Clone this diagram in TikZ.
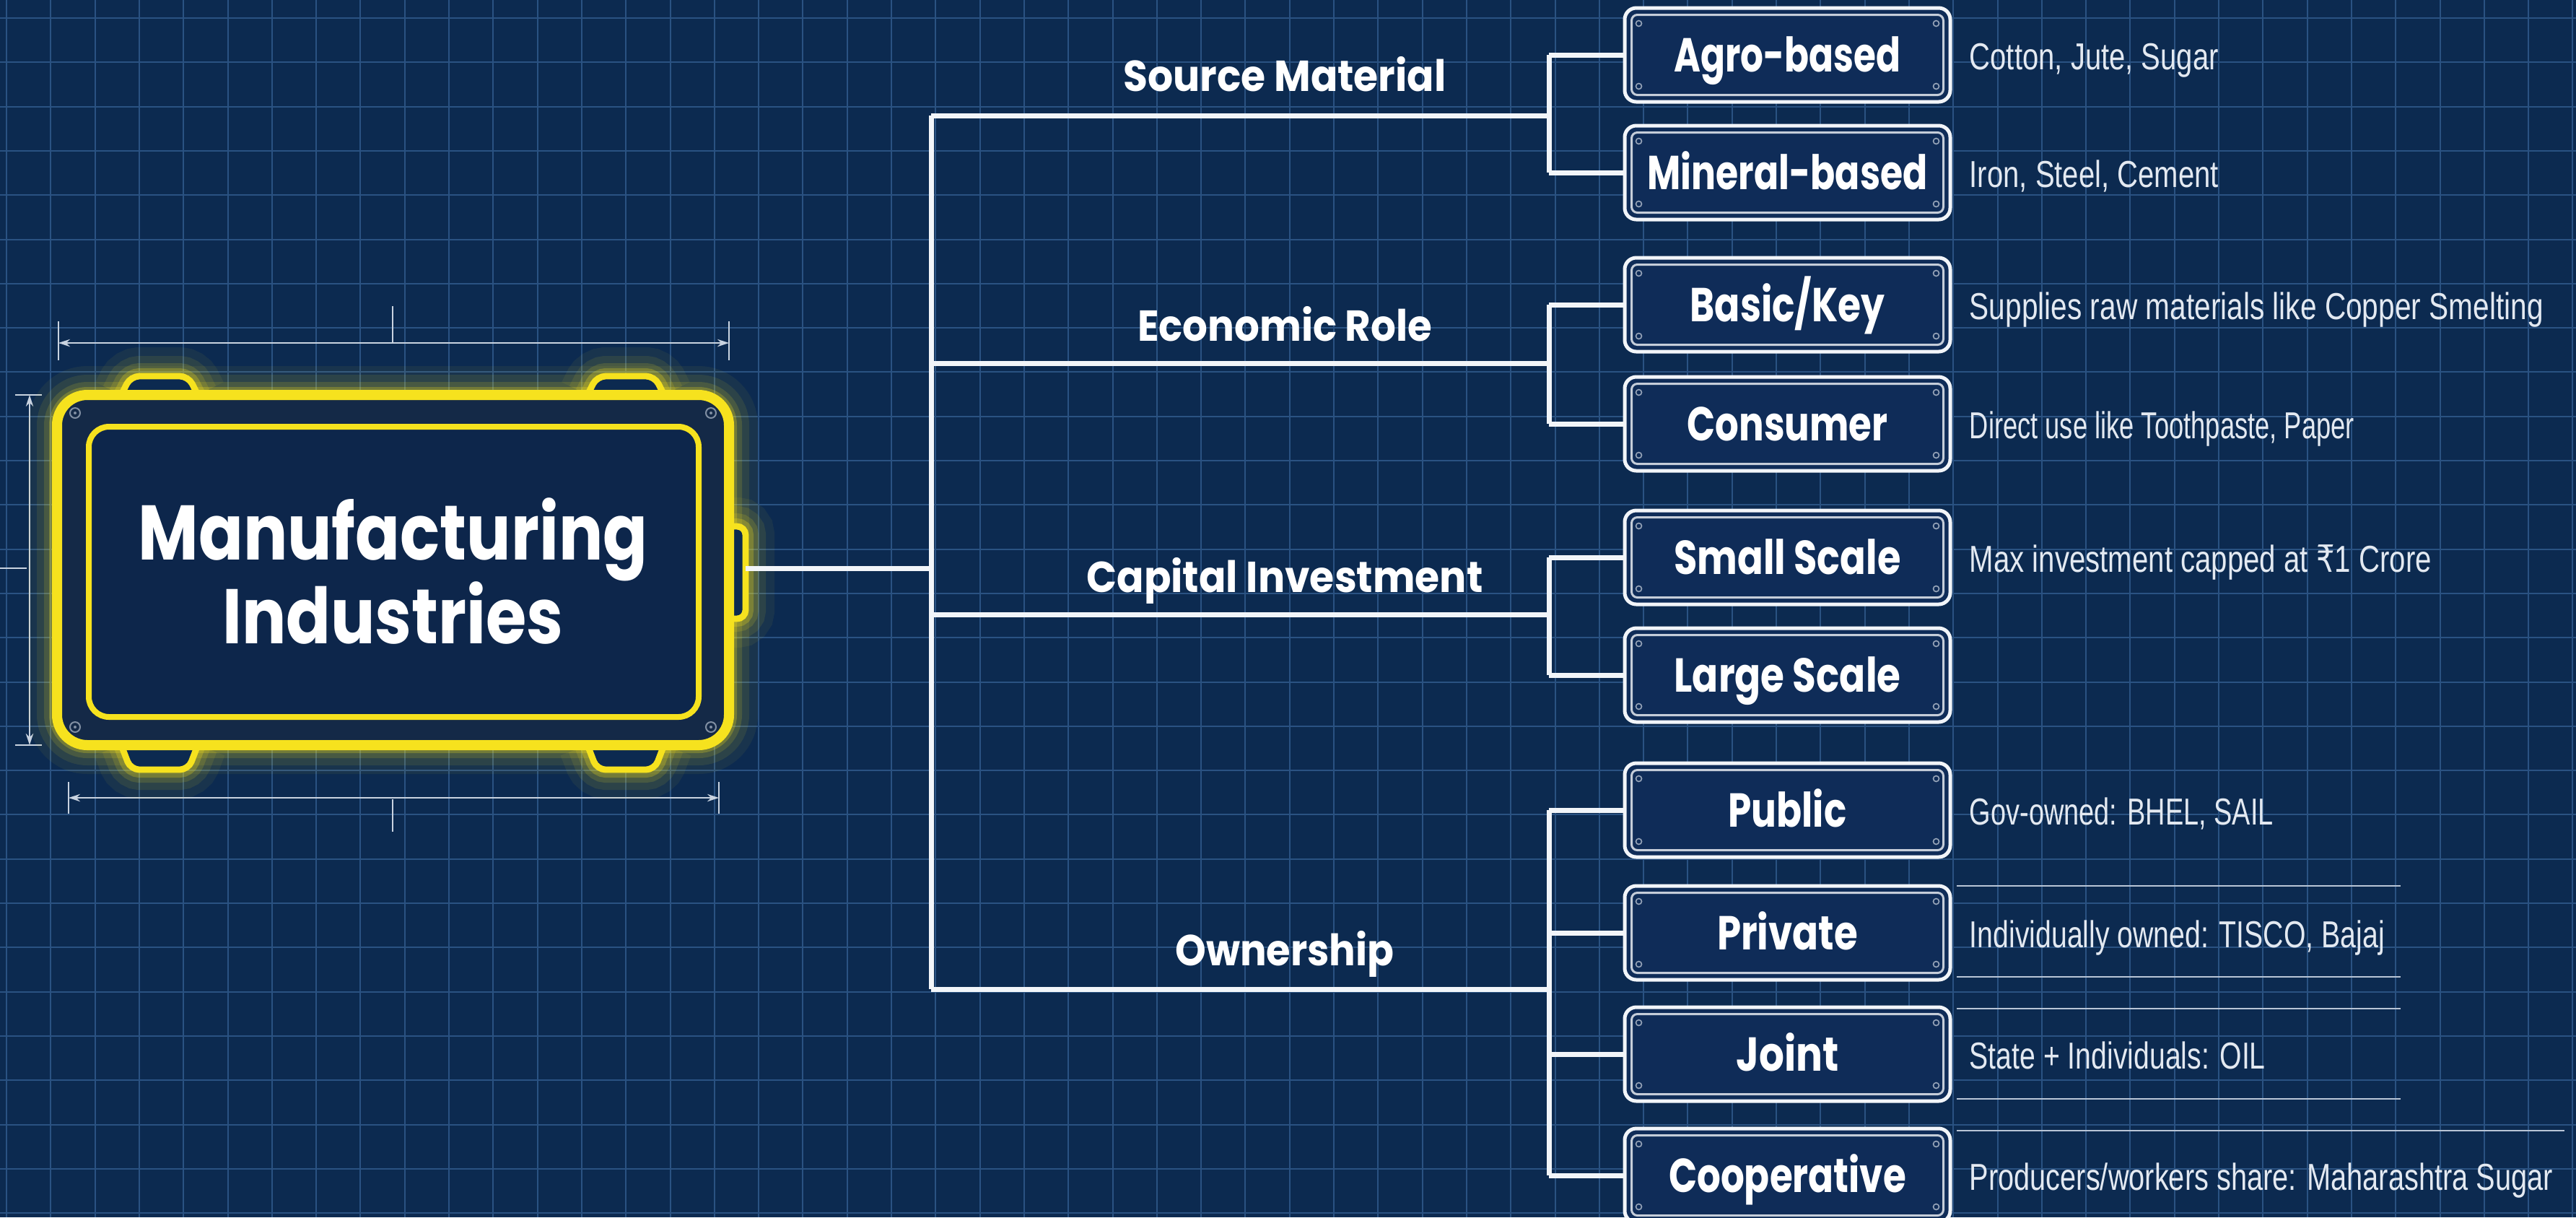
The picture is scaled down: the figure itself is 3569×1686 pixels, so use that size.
\documentclass[tikz,border=0pt]{standalone}
\usepackage{fontspec}
\usepackage{graphicx}
\usetikzlibrary{arrows.meta,calc}
\newfontfamily\headfont[FakeStretch=0.85]{Poppins}
\newfontfamily\descfont{Liberation Sans}
\newfontfamily\rupfont{DejaVu Sans}
\newdimen\pxu \pxu=0.25pt
\newcommand\fw[2]{\resizebox{#1\pxu}{\height}{#2}}
\definecolor{bgc}{HTML}{0C2A50}
\definecolor{gridc}{HTML}{2A5282}
\definecolor{ylw}{HTML}{F6E21E}
\definecolor{boxfill}{HTML}{0F2C58}
\definecolor{rootfill}{HTML}{0D264B}
\definecolor{bandfill}{HTML}{142947}
\definecolor{dimc}{HTML}{C9D3E0}
\definecolor{linec}{HTML}{F2F5F9}
\definecolor{descc}{HTML}{E3E9F1}
\definecolor{rulec}{HTML}{B9C5D6}
\newcommand\mfglowshape[1]{%
  \draw[#1, rounded corners=3pt] (168,547) -- (181,521) -- (261,521) -- (274,547);
  \draw[#1, rounded corners=3pt] (814,547) -- (827,521) -- (907,521) -- (920,547);
  \draw[#1, rounded corners=3pt] (168,1032) -- (181,1066) -- (261,1066) -- (274,1032);
  \draw[#1, rounded corners=3pt] (814,1032) -- (827,1066) -- (907,1066) -- (920,1032);
  \draw[#1, rounded corners=3pt] (1005,729) rectangle (1033,857);
  \draw[#1, rounded corners=10.5pt] (79,547) rectangle (1010,1032);
  \draw[#1, rounded corners=7pt] (123,591) rectangle (968,993);
}
\tikzset{
  subbox/.style={draw=linec, line width=1.25pt, rounded corners=4pt, fill=boxfill,
    minimum width=112.75pt, minimum height=32.5pt, inner sep=0pt,
    text height=11.6pt, text depth=0pt,
    font=\headfont\bfseries\fontsize{16.5pt}{18pt}\selectfont, text=white},
  catlabel/.style={font=\headfont\bfseries\fontsize{15pt}{17pt}\selectfont, text=white, inner sep=0pt,
    text height=10.5pt, text depth=0pt},
  desc/.style={anchor=west, font=\descfont\fontsize{13pt}{15pt}\selectfont, text=descc, inner sep=0pt,
    text height=9.3pt, text depth=0pt},
  conn/.style={draw=linec, line width=1.75pt},
  innerl/.style={draw=linec!80!boxfill, line width=0.75pt, rounded corners=2pt},
  screw/.style={draw=linec!60!boxfill, line width=0.4pt},
  dim/.style={draw=dimc, line width=0.5pt},
  dimar/.style={dim, {Stealth[length=4pt,width=2.6pt]}-{Stealth[length=4pt,width=2.6pt]}},
  rule/.style={draw=rulec, line width=0.7pt}
}
\begin{document}
\begin{tikzpicture}[x=0.25pt,y=-0.25pt]
\useasboundingbox (0,0) rectangle (3569,1686);
\fill[bgc] (0,0) rectangle (3569,1686);
\foreach \i in {0,...,58} \draw[gridc, line width=0.5pt] ({9+61.3*\i},0) -- ({9+61.3*\i},1686);
\foreach \i in {0,...,27} \draw[gridc, line width=0.5pt] (0,{25+61.3*\i}) -- (3569,{25+61.3*\i});

% dimension lines
\coordinate (dt1) at (81,475); \coordinate (dt2) at (1010,475);
\draw[dimar] (dt1) -- (dt2);
\draw[dim] (81,445) -- (81,499);
\draw[dim] (1010,445) -- (1010,499);
\draw[dim] (544,424) -- (544,474);
\coordinate (db1) at (95,1105); \coordinate (db2) at (996,1105);
\draw[dimar] (db1) -- (db2);
\draw[dim] (95,1083) -- (95,1127);
\draw[dim] (996,1083) -- (996,1127);
\draw[dim] (544,1107) -- (544,1152);
\coordinate (dl1) at (41,547); \coordinate (dl2) at (41,1032);
\draw[dimar] (dl1) -- (dl2);
\draw[dim] (21,547) -- (58,547);
\draw[dim] (21,1032) -- (58,1032);
\draw[dim] (0,787) -- (37,787);

% main box with glow
\mfglowshape{ylw, line width=20pt, opacity=0.06}
\mfglowshape{ylw, line width=14pt, opacity=0.09}
\mfglowshape{ylw, line width=9pt, opacity=0.14}
\mfglowshape{ylw, line width=5.5pt, opacity=0.25}
\fill[bgc, rounded corners=3pt] (168,547) -- (181,521) -- (261,521) -- (274,547) -- cycle;
\fill[bgc, rounded corners=3pt] (814,547) -- (827,521) -- (907,521) -- (920,547) -- cycle;
\fill[bgc, rounded corners=3pt] (168,1032) -- (181,1066) -- (261,1066) -- (274,1032) -- cycle;
\fill[bgc, rounded corners=3pt] (814,1032) -- (827,1066) -- (907,1066) -- (920,1032) -- cycle;
\fill[bgc, rounded corners=3pt] (1005,729) rectangle (1033,857);
\mfglowshape{ylw, line width=2.2pt}
\fill[bandfill, rounded corners=10.5pt] (79,547) rectangle (1010,1032);
\fill[rootfill, rounded corners=7pt] (123,591) rectangle (968,993);
\draw[ylw, line width=3.5pt, rounded corners=10.5pt] (79,547) rectangle (1010,1032);
\draw[ylw, line width=2pt, rounded corners=7pt] (123,591) rectangle (968,993);
\foreach \p in {(104,572),(985,572),(104,1007),(985,1007)}
  {\draw[draw=dimc!60!bandfill, line width=0.5pt] \p circle (7); \fill[dimc!60!bandfill] \p circle (2);}
\node[font=\headfont\bfseries\fontsize{26.8pt}{29pt}\selectfont, text=white, align=center, inner sep=0pt] (root) at (544.5,791) {Manufacturing\\Industries};
\coordinate (rt) at (1033,787);

% tree junctions
\coordinate (j0) at (1290,787);
\coordinate (j1) at (1290,160);
\coordinate (j2) at (1290,503);
\coordinate (j3) at (1290,851);
\coordinate (j4) at (1290,1370);
\coordinate (b1) at (2146,160);
\coordinate (b2) at (2146,503);
\coordinate (b3) at (2146,851);
\coordinate (b4) at (2146,1370);

\draw[conn] (rt) -- (j0);
\draw[conn] (j1) -- (j4);
\draw[conn] (j1) -- (b1);
\draw[conn] (j2) -- (b2);
\draw[conn] (j3) -- (b3);
\draw[conn] (j4) -- (b4);

% category labels
\node[catlabel] (csrc) at (1780,105) {\fw{447}{Source Material}};
\node[catlabel] (cecon) at (1780,451) {\fw{408}{Economic Role}};
\node[catlabel] (ccap) at (1780,799) {\fw{549}{Capital Investment}};
\node[catlabel] (cown) at (1780,1316) {\fw{303}{Ownership}};

% sub boxes
\node[subbox] (agro) at (2476.5,76) {\fw{314}{Agro-based}};
\node[subbox] (mineral) at (2476.5,239) {\fw{388}{Mineral-based}};
\node[subbox] (basic) at (2476.5,422) {\fw{270}{Basic/Key}};
\node[subbox] (consumer) at (2476.5,587) {\fw{278}{Consumer}};
\node[subbox] (small) at (2476.5,772) {\fw{314}{Small Scale}};
\node[subbox] (large) at (2476.5,935) {\fw{314}{Large Scale}};
\node[subbox] (public) at (2476.5,1122) {\fw{164}{Public}};
\node[subbox] (private) at (2476.5,1292) {\fw{195}{Private}};
\node[subbox] (joint) at (2476.5,1460) {\fw{142}{Joint}};
\node[subbox] (coop) at (2476.5,1628) {\fw{329}{Cooperative}};

\foreach \n in {agro,mineral,basic,consumer,small,large,public,private,joint,coop}{
  \draw[innerl] ([shift={(12,12)}]\n.north west) rectangle ([shift={(-12,-12)}]\n.south east);
  \draw[screw] ([shift={(22,24)}]\n.north west) circle (4);
  \draw[screw] ([shift={(-22,24)}]\n.north east) circle (4);
  \draw[screw] ([shift={(22,-24)}]\n.south west) circle (4);
  \draw[screw] ([shift={(-22,-24)}]\n.south east) circle (4);
}

% branch connectors
\draw[conn] (b1 |- agro) -- (b1 |- mineral);
\draw[conn] (b1 |- agro) -- (agro.west);
\draw[conn] (b1 |- mineral) -- (mineral.west);
\draw[conn] (b2 |- basic) -- (b2 |- consumer);
\draw[conn] (b2 |- basic) -- (basic.west);
\draw[conn] (b2 |- consumer) -- (consumer.west);
\draw[conn] (b3 |- small) -- (b3 |- large);
\draw[conn] (b3 |- small) -- (small.west);
\draw[conn] (b3 |- large) -- (large.west);
\draw[conn] (b4 |- public) -- (b4 |- coop);
\draw[conn] (b4 |- public) -- (public.west);
\draw[conn] (b4 |- private) -- (private.west);
\draw[conn] (b4 |- joint) -- (joint.west);
\draw[conn] (b4 |- coop) -- (coop.west);

% descriptions
\node[desc] (dagro) at (2728,78) {\fw{345}{Cotton, Jute, Sugar}};
\node[desc] (dmin) at (2728,241) {\fw{345}{Iron, Steel, Cement}};
\node[desc] (dbasic) at (2728,424) {\fw{795}{Supplies raw materials like Copper Smelting}};
\node[desc] (dcons) at (2728,589) {\fw{533}{Direct use like Toothpaste, Paper}};
\node[desc] (dsmall) at (2728,774) {\fw{640}{Max investment capped at {\rupfont ₹}1 Crore}};
\node[desc] (dpub) at (2728,1124) {\fw{421}{Gov-owned: BHEL, SAIL}};
\node[desc] (dpriv) at (2728,1294) {\fw{575}{Individually owned: TISCO, Bajaj}};
\node[desc] (djoint) at (2728,1462) {\fw{410}{State + Individuals: OIL}};
\node[desc] (dcoop) at (2728,1630) {\fw{808}{Producers/workers share: Maharashtra Sugar}};

% rules
\draw[rule] (2711,1227) -- (3326,1227);
\draw[rule] (2711,1353) -- (3326,1353);
\draw[rule] (2711,1397) -- (3326,1397);
\draw[rule] (2711,1522) -- (3326,1522);
\draw[rule] (2711,1566) -- (3553,1566);
\end{tikzpicture}
\end{document}
